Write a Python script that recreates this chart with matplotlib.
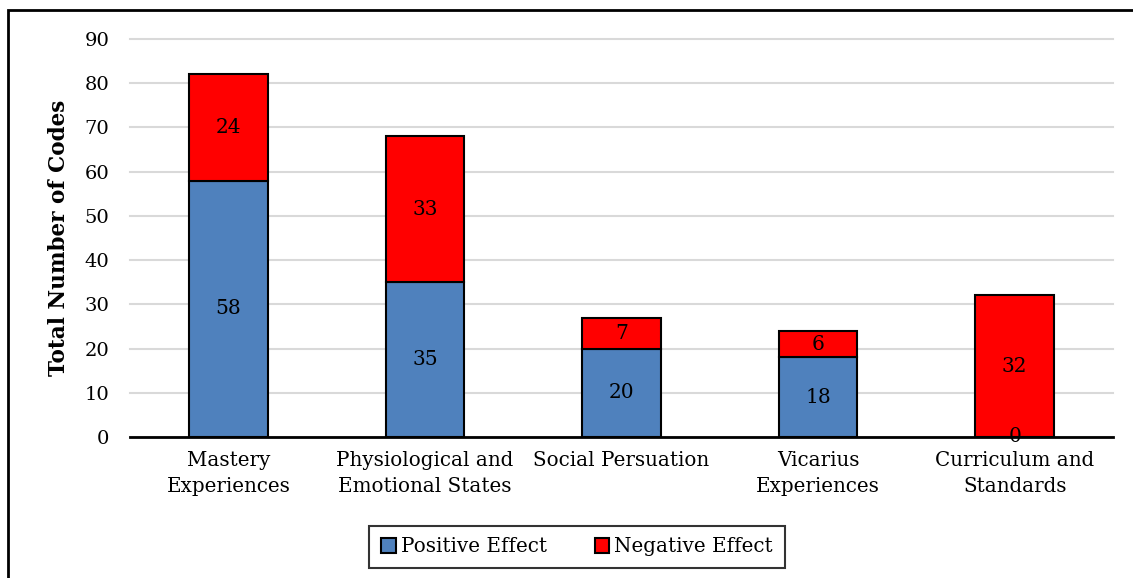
import numpy as np
import matplotlib.pyplot as plt
from matplotlib.patches import Rectangle

# Дані
categories = ['Mastery\nExperiences', 'Physiological and\nEmotional States',
              'Social Persuation', 'Vicarius\nExperiences', 'Curriculum and\nStandards']
positive = [58, 35, 20, 18, 0]
negative = [24, 33, 7, 6, 32]

plt.rcParams['font.family'] = ['DejaVu Serif']

fig = plt.figure(figsize=(11.33, 5.78), dpi=100)
ax = fig.add_axes([130 / 1133, 1 - 437 / 578, 983 / 1133, 398 / 578])

x = np.arange(len(categories))
b1 = ax.bar(x, positive, width=0.4, color='#4F81BD', edgecolor='black', linewidth=1.5,
            label='Positive Effect', zorder=3)
b2 = ax.bar(x, negative, width=0.4, bottom=positive, color='#FF0000', edgecolor='black',
            linewidth=1.5, label='Negative Effect', zorder=3)

ax.bar_label(b1, labels=[str(v) for v in positive], label_type='center', fontsize=14.5)
ax.bar_label(b2, labels=[str(v) for v in negative], label_type='center', fontsize=14.5)

ax.set_xlim(-0.5, len(categories) - 0.5)
ax.set_ylim(0, 90)
ax.set_yticks(range(0, 91, 10))
ax.set_xticks(x)
ax.set_xticklabels(categories, fontsize=14.3, linespacing=1.45)
ax.tick_params(axis='y', labelsize=14, length=0, pad=15)
ax.tick_params(axis='x', length=0, pad=10)
ax.grid(axis='y', color='#d9d9d9', linewidth=1.5, zorder=0)
for gl in ax.get_ygridlines():
    gl.set_clip_on(False)
for s in ['top', 'right', 'left']:
    ax.spines[s].set_visible(False)
ax.spines['bottom'].set_linewidth(2)
ax.set_ylabel('Total Number of Codes', fontsize=15.5, fontweight='bold', labelpad=10)

leg = fig.legend(loc='center', bbox_to_anchor=(577 / 1133, 1 - 547 / 578), ncol=2,
                 fontsize=14.3, frameon=True, fancybox=False, edgecolor='black',
                 handlelength=0.75, handleheight=0.75, handletextpad=0.25, columnspacing=2.4,
                 borderpad=0.6, borderaxespad=0)
leg.get_frame().set_linewidth(1.5)

# Рамка навколо діаграми
fig.patches.append(Rectangle((8 / 1133, -0.01), 1.2, 1 - 10 / 578 + 0.01,
                             transform=fig.transFigure, fill=False,
                             edgecolor='black', linewidth=2))

fig.savefig('out.png', dpi=100)
